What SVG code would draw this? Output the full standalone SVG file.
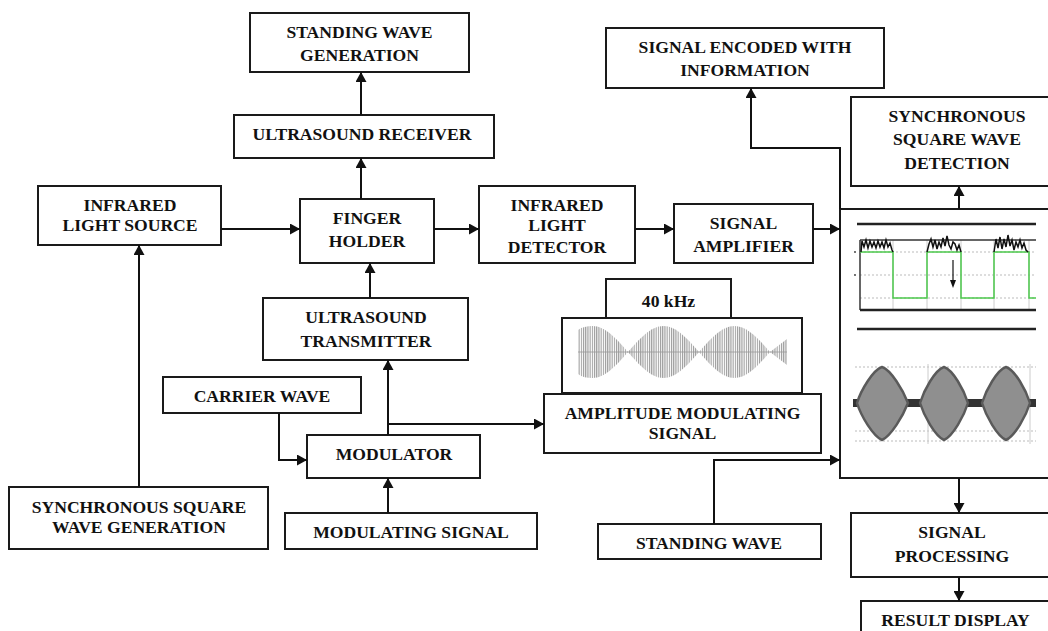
<svg xmlns="http://www.w3.org/2000/svg" width="1048" height="631" viewBox="0 0 1048 631">
<style>
.box{fill:#fff;stroke:#1a1a1a;stroke-width:2}
.lbl{font-family:"Liberation Serif","Times New Roman",serif;font-weight:bold;font-size:17.6px;text-anchor:middle;fill:#111}
.conn{fill:none;stroke:#111;stroke-width:2;marker-end:url(#arr)}
.thick{stroke:#222;stroke-width:2.5}
.grid{stroke:#bbb;stroke-width:1;stroke-dasharray:2 2}
.vgrid{stroke:#ccc;stroke-width:1}
.noise{fill:none;stroke:#111;stroke-width:1.5}
.env{fill:url(#carrier)}
.lobe{fill:#8f8f8f;stroke:#5a5a5a;stroke-width:2.5}
</style>
<defs>
<marker id="arr" markerUnits="userSpaceOnUse" markerWidth="10" markerHeight="11" refX="10" refY="5.5" orient="auto">
<path d="M0,0 L10,5.5 L0,11 Z" fill="#111"/>
</marker>
<pattern id="carrier" patternUnits="userSpaceOnUse" width="2.2" height="100">
<rect x="0" y="0" width="1.1" height="100" fill="#9a9a9a"/>
</pattern>
</defs>
<rect width="1048" height="631" fill="#fff"/>

<g id="standing-wave-generation">
<rect class="box" x="250" y="13" width="219" height="59"/>
<text class="lbl" x="359.5" y="38">STANDING WAVE</text>
<text class="lbl" x="359.5" y="61">GENERATION</text>
</g>
<g id="ultrasound-receiver">
<rect class="box" x="234" y="115" width="260" height="43"/>
<text class="lbl" x="362" y="140">ULTRASOUND RECEIVER</text>
</g>
<g id="infrared-light-source">
<rect class="box" x="38" y="186" width="183" height="59"/>
<text class="lbl" x="130" y="211">INFRARED</text>
<text class="lbl" x="130" y="231">LIGHT SOURCE</text>
</g>
<g id="finger-holder">
<rect class="box" x="300" y="199" width="134" height="64"/>
<text class="lbl" x="367" y="224">FINGER</text>
<text class="lbl" x="367" y="247">HOLDER</text>
</g>
<g id="infrared-light-detector">
<rect class="box" x="479" y="186" width="156" height="77"/>
<text class="lbl" x="557" y="211">INFRARED</text>
<text class="lbl" x="557" y="231">LIGHT</text>
<text class="lbl" x="557" y="253">DETECTOR</text>
</g>
<g id="signal-amplifier">
<rect class="box" x="674" y="204" width="139" height="59"/>
<text class="lbl" x="743.5" y="229">SIGNAL</text>
<text class="lbl" x="743.5" y="252">AMPLIFIER</text>
</g>
<g id="signal-encoded">
<rect class="box" x="606" y="28" width="278" height="60"/>
<text class="lbl" x="745" y="53">SIGNAL ENCODED WITH</text>
<text class="lbl" x="745" y="76">INFORMATION</text>
</g>
<g id="sync-square-wave-detection">
<rect class="box" x="851" y="97" width="210" height="89"/>
<text class="lbl" x="957" y="122">SYNCHRONOUS</text>
<text class="lbl" x="957" y="145">SQUARE WAVE</text>
<text class="lbl" x="957" y="169">DETECTION</text>
</g>
<g id="ultrasound-transmitter">
<rect class="box" x="263" y="298" width="205" height="62"/>
<text class="lbl" x="366" y="323">ULTRASOUND</text>
<text class="lbl" x="366" y="347">TRANSMITTER</text>
</g>
<g id="carrier-wave">
<rect class="box" x="163" y="377" width="198" height="36"/>
<text class="lbl" x="262" y="402">CARRIER WAVE</text>
</g>
<g id="modulator">
<rect class="box" x="307" y="435" width="173" height="43"/>
<text class="lbl" x="394" y="460">MODULATOR</text>
</g>
<g id="modulating-signal">
<rect class="box" x="285" y="513" width="252" height="36"/>
<text class="lbl" x="411" y="538">MODULATING SIGNAL</text>
</g>
<g id="sync-square-wave-generation">
<rect class="box" x="9" y="487" width="259" height="62"/>
<text class="lbl" x="139" y="513">SYNCHRONOUS SQUARE</text>
<text class="lbl" x="139" y="533">WAVE GENERATION</text>
</g>
<g id="freq-40khz">
<rect class="box" x="606" y="279" width="125" height="39"/>
<text class="lbl" x="668.5" y="307">40 kHz</text>
</g>
<g id="am-waveform">
<rect class="box" x="562" y="318" width="240" height="75"/>
<line x1="578" y1="352" x2="787" y2="352" stroke="#aaa" stroke-width="1"/>
<path class="env" d="M578,330 C582,327 587,326 592.5,326 C605.1,326 616.4,338.7 628,352 C616.4,365.3 605.1,378 592.5,378 C587,378 582,377 578,374 Z"/>
<path class="env" d="M628,352 C639.6,338.7 650.9,326 663.5,326 C676.1,326 687.4,338.7 699,352 C687.4,365.3 676.1,378 663.5,378 C650.9,378 639.6,365.3 628,352 Z"/>
<path class="env" d="M699,352 C710.6,338.7 721.9,326 734.5,326 C747.1,326 758.4,338.7 770,352 C758.4,365.3 747.1,378 734.5,378 C721.9,378 710.6,365.3 699,352 Z"/>
<path class="env" d="M770,352 L787,339 L787,365 Z"/>
</g>
<g id="amplitude-modulating-signal">
<rect class="box" x="544" y="394" width="277" height="59"/>
<text class="lbl" x="682.5" y="419">AMPLITUDE MODULATING</text>
<text class="lbl" x="682.5" y="439">SIGNAL</text>
</g>
<g id="standing-wave">
<rect class="box" x="598" y="524" width="223" height="35"/>
<text class="lbl" x="709" y="549">STANDING WAVE</text>
</g>
<g id="scope-panel">
<rect class="box" x="840" y="209" width="220" height="269"/>
<line class="thick" x1="857" y1="224" x2="1036" y2="224"/>
<line class="grid" x1="860" y1="252" x2="1036" y2="252"/>
<line class="grid" x1="860" y1="275" x2="1036" y2="275"/>
<line class="grid" x1="860" y1="298" x2="1036" y2="298"/>
<line class="vgrid" x1="893" y1="240" x2="893" y2="310"/>
<line class="vgrid" x1="927" y1="240" x2="927" y2="310"/>
<line class="vgrid" x1="961" y1="240" x2="961" y2="310"/>
<line class="vgrid" x1="994" y1="240" x2="994" y2="310"/>
<line class="vgrid" x1="1029" y1="240" x2="1029" y2="310"/>
<line x1="860" y1="240" x2="1036" y2="240" stroke="#333" stroke-width="1.5"/>
<line x1="860" y1="240" x2="860" y2="310" stroke="#333" stroke-width="1.5"/>
<line class="thick" x1="860" y1="310" x2="1036" y2="310"/>
<polyline fill="none" stroke="#4cc94c" stroke-width="1.5" points="860,252 893,252 893,298 927,298 927,252 961,252 961,298 994,298 994,252 1029,252 1029,298 1036,298"/>
<polyline class="noise" points="861,252 862,241 864,247 866,240 868,248 870,241 872,247 874,242 876,248 878,241 880,247 882,242 884,248 886,240 888,247 890,243 892,250 893,252"/>
<polyline class="noise" points="927,252 929,244 931,239 933,247 935,240 937,249 939,242 941,247 943,238 945,246 947,236 949,245 951,249 953,242 955,244 957,250 959,245 961,252"/>
<polyline class="noise" points="994,252 996,239 998,248 1000,237 1002,249 1004,239 1006,247 1008,235 1010,246 1012,240 1014,250 1016,242 1018,247 1020,240 1022,248 1024,243 1026,250 1028,252"/>
<line x1="953" y1="260" x2="953" y2="281" stroke="#111" stroke-width="1.2"/>
<path d="M950,280 L956,280 L953,288 Z" fill="#111"/>
<circle cx="855" cy="252" r="0.9" fill="#333"/>
<circle cx="855" cy="275" r="0.9" fill="#333"/>
<line class="thick" x1="857" y1="329" x2="1036" y2="329"/>
<line class="grid" x1="855" y1="367" x2="1036" y2="367"/>
<line class="grid" x1="855" y1="431" x2="1036" y2="431"/>
<line class="grid" x1="855" y1="441" x2="1036" y2="441"/>
<line class="vgrid" x1="928" y1="364" x2="928" y2="444"/>
<line class="vgrid" x1="1030" y1="364" x2="1030" y2="444"/>
<rect x="853" y="399" width="183" height="8" fill="#333"/>
<path class="lobe" d="M857,403 C861,390 873,370 882,367 C891,370 903,390 908,403 C903,416 891,436 882,440 C873,436 861,416 857,403 Z"/>
<path class="lobe" d="M920,403 C924,390 935,370 944,367 C953,370 964,390 968,403 C964,416 953,436 944,440 C935,436 924,416 920,403 Z"/>
<path class="lobe" d="M982,403 C986,390 997,370 1006,367 C1015,370 1026,390 1030,403 C1026,416 1015,436 1006,440 C997,436 986,416 982,403 Z"/>
</g>
<g id="signal-processing">
<rect class="box" x="851" y="513" width="210" height="64"/>
<text class="lbl" x="952" y="538">SIGNAL</text>
<text class="lbl" x="952" y="562">PROCESSING</text>
</g>
<g id="result-display">
<rect class="box" x="861" y="601" width="200" height="40"/>
<text class="lbl" x="955.5" y="626">RESULT DISPLAY</text>
</g>

<g id="connectors">
<path class="conn" d="M361,115 L361,72"/>
<path class="conn" d="M361,199 L361,158"/>
<path class="conn" d="M221,229 L300,229"/>
<path class="conn" d="M434,229 L479,229"/>
<path class="conn" d="M635,229 L674,229"/>
<path class="conn" d="M813,229 L840,229"/>
<path class="conn" d="M370,298 L370,263"/>
<path class="conn" d="M139,487 L139,245"/>
<path class="conn" d="M388,435 L388,360"/>
<path class="conn" d="M388,424 L544,424"/>
<path class="conn" d="M279,413 L279,460 L307,460"/>
<path class="conn" d="M388,513 L388,478"/>
<path class="conn" d="M714,524 L714,460 L840,460"/>
<path class="conn" d="M840,209 L840,148 L751,148 L751,88"/>
<path class="conn" d="M959,209 L959,186"/>
<path class="conn" d="M959,478 L959,513"/>
<path class="conn" d="M959,577 L959,601"/>
</g>
</svg>
